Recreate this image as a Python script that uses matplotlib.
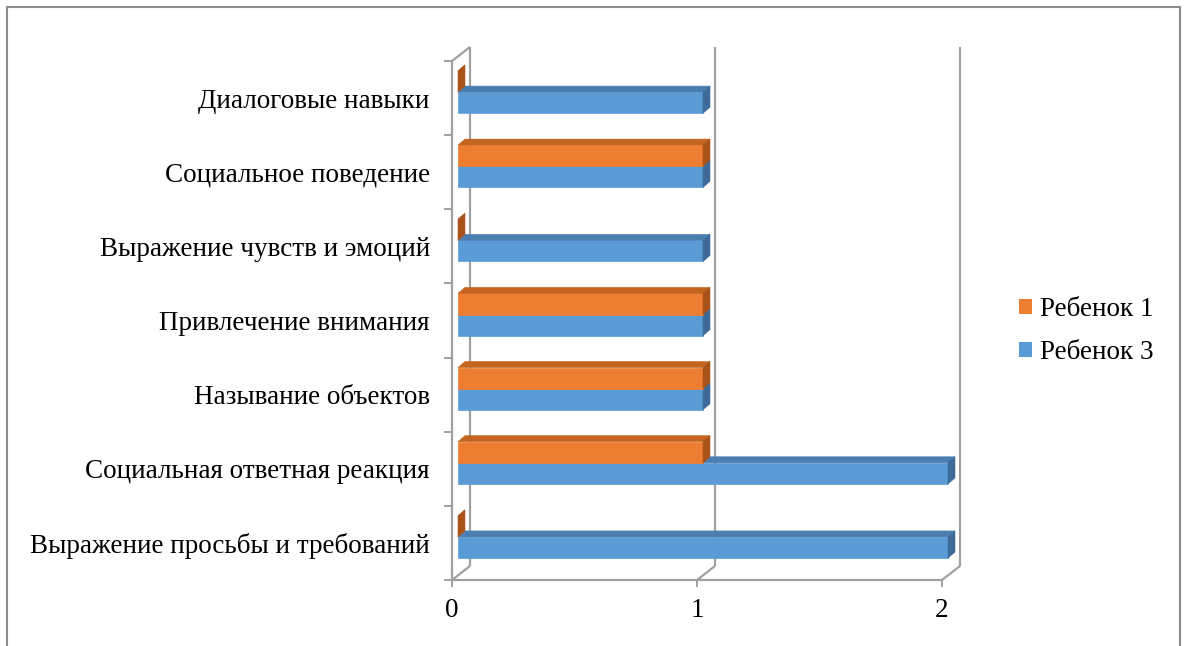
import matplotlib.pyplot as plt
from matplotlib.patches import Polygon, Rectangle, Patch

# rows listed bottom to top, as barh draws them
categories = [
    "Выражение просьбы и требований",
    "Социальная ответная реакция",
    "Называние объектов",
    "Привлечение внимания",
    "Выражение чувств и эмоций",
    "Социальное поведение",
    "Диалоговые навыки",
]
child1 = [0, 1, 1, 1, 0, 1, 0]
child3 = [2, 2, 1, 1, 1, 1, 1]
series_names = ["Ребенок 1", "Ребенок 3"]
x_ticks = [0, 1, 2]

# front / top / side shades for each series
orange = ("#ED7D31", "#C3651F", "#A9531B")
blue = ("#5B9BD5", "#4A7DB0", "#3D6A98")
grid_color = "#A0A0A0"
font_size = 19.5

plt.rcParams['font.family'] = ['Liberation Serif', 'DejaVu Serif']

W, H = 1184, 646
fig = plt.figure(figsize=(W / 100, H / 100), dpi=100)
ax = fig.add_axes([452 / W, 66 / H, 490 / W, 519 / H])
ax.set_xlim(x_ticks[0], x_ticks[-1])
ax.set_ylim(-0.5, len(categories) - 0.5)

bbox = ax.get_window_extent()
px_x = bbox.width / (x_ticks[-1] - x_ticks[0])
px_y = bbox.height / len(categories)


def shift(dx_px, dy_px):
    return dx_px / px_x, dy_px / px_y


# pseudo-3d offsets: bar plane, bar depth, back wall
plane_x, plane_y = shift(6, 6)
depth_x, depth_y = shift(7, 6)
back_x, back_y = shift(18, 14)

y_lo, y_hi = ax.get_ylim()
line_kw = dict(color=grid_color, lw=1.6, clip_on=False, zorder=1,
               solid_capstyle='butt')

# back wall: left edge and vertical gridlines
for xt in x_ticks:
    ax.plot([xt + back_x, xt + back_x], [y_lo + back_y, y_hi + back_y], **line_kw)
    # floor edges joining front axis and back wall
    ax.plot([xt, xt + back_x], [y_lo, y_lo + back_y], **line_kw)
# side wall top edge
ax.plot([0, back_x], [y_hi, y_hi + back_y], **line_kw)

bar_h = 0.285


def draw_series(values, offset, shades):
    front, top, side = shades
    for i, v in enumerate(values):
        yb = i + offset + plane_y
        yt = yb + bar_h
        x0 = plane_x
        x1 = plane_x + v
        ax.barh(yb, v, height=bar_h, left=x0, align='edge',
                color=front, edgecolor=front, lw=0.5, zorder=3,
                clip_on=False)
        ax.add_patch(Polygon([(x0, yt), (x1, yt), (x1 + depth_x, yt + depth_y),
                              (x0 + depth_x, yt + depth_y)],
                             closed=True, facecolor=top, edgecolor=top,
                             lw=0.4, zorder=3, clip_on=False))
        ax.add_patch(Polygon([(x1, yb), (x1, yt), (x1 + depth_x, yt + depth_y),
                              (x1 + depth_x, yb + depth_y)],
                             closed=True, facecolor=side, edgecolor=side,
                             lw=0.4, zorder=3, clip_on=False))


draw_series(child3, -bar_h, blue)
draw_series(child1, 0.0, orange)

# front axes
for s in ('top', 'right'):
    ax.spines[s].set_visible(False)
for s in ('left', 'bottom'):
    ax.spines[s].set_color(grid_color)
    ax.spines[s].set_linewidth(1.6)
    ax.spines[s].set_zorder(2)

ax.set_yticks(range(len(categories)))
ax.set_yticklabels(categories)
ax.set_yticks([k - 0.5 for k in range(len(categories) + 1)], minor=True)
ax.tick_params(axis='y', which='major', length=0, pad=16, labelsize=font_size)
ax.tick_params(axis='y', which='minor', length=6, width=1.4, color=grid_color)
ax.set_xticks(x_ticks)
ax.set_xticklabels([str(t) for t in x_ticks])
ax.tick_params(axis='x', length=5, width=1.4, color=grid_color, pad=8,
               labelsize=font_size)

handles = [Patch(facecolor=orange[0], label=series_names[0]),
           Patch(facecolor=blue[0], label=series_names[1])]
fig.legend(handles=handles, loc='center left',
           bbox_to_anchor=(995 / W, 1 - 331 / H), frameon=False,
           fontsize=font_size, handlelength=0.45, handleheight=0.45,
           handletextpad=0.3, labelspacing=0.66)

# chart frame
fig.add_artist(Rectangle((7 / W, -0.05), (1180 - 7) / W, 1 - 7 / H + 0.05,
                         transform=fig.transFigure, fill=False,
                         edgecolor='#8C8C8C', lw=1.5))

fig.savefig("out.png", dpi=100)
